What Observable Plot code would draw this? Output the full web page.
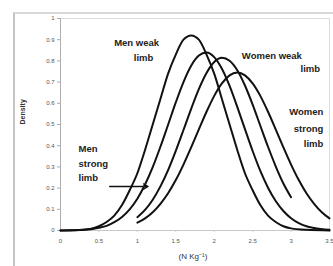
<!DOCTYPE html>
<html>
<head>
<meta charset="utf-8">
<script src="https://cdn.jsdelivr.net/npm/d3@7"></script>
<script src="https://cdn.jsdelivr.net/npm/@observablehq/plot@0.6"></script>
<style>
  html, body { margin: 0; padding: 0; background: #fff; }
  #wrap { position: relative; width: 333px; height: 266px; overflow: hidden; background: #fff; }
  #outer { position: absolute; left: 13px; top: 12px; width: 400px; height: 400px;
           border-left: 2px solid #c4c4c4; border-top: 2px solid #d8d8d8; box-sizing: border-box; }
  #chart { position: absolute; left: 0; top: 0; }
</style>
</head>
<body>
<div id="wrap"><div id="outer"></div><div id="chart"></div></div>
<script>
// Tick values
const xTicks = [0, 0.5, 1, 1.5, 2, 2.5, 3, 3.5];
const yTicks = [0, 0.1, 0.2, 0.3, 0.4, 0.5, 0.6, 0.7, 0.8, 0.9, 1];

// Series (x = N Kg^-1, y = density)
const menWeakX = [0, 0.2, 0.4, 0.5, 0.6, 0.7, 0.8, 0.9, 1.0, 1.1, 1.2, 1.3, 1.4, 1.5, 1.6, 1.7, 1.8, 1.9, 2.0, 2.1, 2.2, 2.3, 2.4, 2.5, 2.6, 2.7, 2.8, 2.9, 3.0, 3.2, 3.5];
const menWeakY = [0, 0.001, 0.008, 0.02, 0.04, 0.07, 0.12, 0.19, 0.27, 0.38, 0.50, 0.62, 0.74, 0.83, 0.90, 0.92, 0.90, 0.83, 0.74, 0.62, 0.50, 0.38, 0.27, 0.19, 0.12, 0.07, 0.04, 0.02, 0.01, 0.003, 0];

const menStrongX = [0, 0.3, 0.5, 0.6, 0.7, 0.8, 0.9, 1.0, 1.1, 1.2, 1.3, 1.4, 1.5, 1.6, 1.7, 1.8, 1.9, 2.0, 2.1, 2.2, 2.3, 2.4, 2.5, 2.6, 2.7, 2.8, 2.9, 3.0, 3.1, 3.2, 3.3, 3.5];
const menStrongY = [0, 0.003, 0.013, 0.022, 0.039, 0.064, 0.100, 0.150, 0.217, 0.299, 0.395, 0.499, 0.604, 0.700, 0.777, 0.825, 0.840, 0.818, 0.763, 0.682, 0.583, 0.478, 0.375, 0.281, 0.202, 0.139, 0.092, 0.058, 0.035, 0.020, 0.012, 0.003];

const womenWeakX = [1.0, 1.1, 1.2, 1.3, 1.4, 1.5, 1.6, 1.7, 1.8, 1.9, 2.0, 2.1, 2.2, 2.3, 2.4, 2.5, 2.6, 2.7, 2.8, 2.9, 3.0];
const womenWeakY = [0.063, 0.097, 0.145, 0.208, 0.285, 0.376, 0.474, 0.574, 0.667, 0.743, 0.795, 0.815, 0.801, 0.756, 0.684, 0.594, 0.494, 0.395, 0.303, 0.222, 0.157];

const womenStrongX = [1.0, 1.1, 1.2, 1.3, 1.4, 1.5, 1.6, 1.7, 1.8, 1.9, 2.0, 2.1, 2.2, 2.3, 2.4, 2.5, 2.6, 2.7, 2.8, 2.9, 3.0, 3.1, 3.2, 3.3, 3.4, 3.5];
const womenStrongY = [0.037, 0.057, 0.086, 0.126, 0.176, 0.238, 0.311, 0.392, 0.477, 0.560, 0.635, 0.694, 0.732, 0.745, 0.732, 0.694, 0.635, 0.560, 0.477, 0.392, 0.311, 0.238, 0.176, 0.126, 0.086, 0.057];

const seriesNames = ["Men weak limb", "Men strong limb", "Women weak limb", "Women strong limb"];
const seriesX = [menWeakX, menStrongX, womenWeakX, womenStrongX];
const seriesY = [menWeakY, menStrongY, womenWeakY, womenStrongY];

// Annotation texts and their anchor points (data coordinates)
const labelText = ["Men weak", "limb", "Women weak", "limb", "Women", "strong", "limb", "Men", "strong", "limb"];
const labelX    = [0.99, 1.08, 2.75, 3.25, 3.42, 3.42, 3.42, 0.235, 0.235, 0.235];
const labelY    = [0.887, 0.816, 0.825, 0.76, 0.557, 0.481, 0.41, 0.387, 0.316, 0.25];
const labelAnchor = ["middle", "middle", "middle", "middle", "end", "end", "end", "start", "start", "start"];

const arrowFrom = [0.64, 0.2075];
const arrowTo = [1.14, 0.2075];

const rows = seriesNames.flatMap((name, i) => seriesX[i].map((x, j) => ({name, x, y: seriesY[i][j]})));
const labels = labelText.map((t, i) => ({t, x: labelX[i], y: labelY[i], a: labelAnchor[i]}));

const font = "'Liberation Sans', Arial, sans-serif";
const labelMarks = ["middle", "end", "start"].map(a =>
  Plot.text(labels.filter(d => d.a === a), {x: "x", y: "y", text: "t", textAnchor: a, fontSize: 9.5, fill: "#222", fontWeight: 600}));

const chart = Plot.plot({
  width: 333,
  height: 266,
  marginLeft: 60,
  marginTop: 18,
  marginRight: 4,
  marginBottom: 36,
  x: {domain: [0, 3.5]},
  y: {domain: [0, 1]},
  style: {fontFamily: font, fontSize: "6px", color: "#555", background: "transparent", overflow: "visible"},
  marks: [
    Plot.frame({stroke: "#dcdcdc"}),
    Plot.ruleY([0], {stroke: "#c8c8c8"}),
    Plot.ruleX([0], {stroke: "#b0b0b0"}),
    Plot.axisY({ticks: yTicks, tickSize: 3, tickPadding: 3, label: null, stroke: "#aaa", tickFormat: d => String(+d.toFixed(1))}),
    Plot.axisX({ticks: xTicks, tickSize: 2, tickPadding: 6, label: null, stroke: "#ccc", tickFormat: d => String(d)}),
    Plot.line(rows, {x: "x", y: "y", z: "name", stroke: "#111", strokeWidth: 2, curve: "monotone-x"}),
    ...labelMarks,
    Plot.arrow([{x1: arrowFrom[0], y1: arrowFrom[1], x2: arrowTo[0], y2: arrowTo[1]}],
      {x1: "x1", y1: "y1", x2: "x2", y2: "y2", stroke: "#111", strokeWidth: 1.3, headLength: 6}),
    Plot.text(["Density"], {frameAnchor: "left", dx: -38, rotate: -90, fontSize: 7, fill: "#333", fontWeight: 600}),
    Plot.text(["(N Kg\u207B\u00B9)"], {frameAnchor: "bottom", dx: -2, dy: 28, fontSize: 8, fill: "#333"})
  ]
});
document.getElementById("chart").appendChild(chart);
</script>
</body>
</html>
